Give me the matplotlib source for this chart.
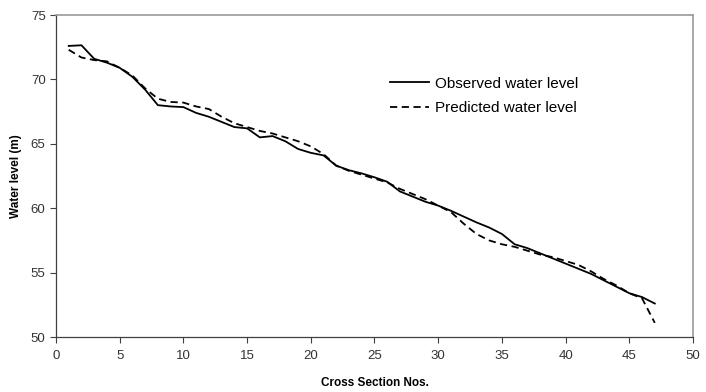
import matplotlib.pyplot as plt
import numpy as np

plt.rcParams['font.family'] = ['Liberation Sans', 'DejaVu Sans']

# cross section numbers
sections = list(range(1, 48))

# water levels (m)
observed = [72.6, 72.65, 71.6, 71.3, 70.9, 70.2, 69.2, 68.0, 67.9, 67.85,
            67.4, 67.1, 66.7, 66.3, 66.2, 65.5, 65.6, 65.2, 64.6, 64.3,
            64.1, 63.3, 62.95, 62.7, 62.4, 62.05, 61.3, 60.9, 60.5, 60.2,
            59.8, 59.35, 58.9, 58.5, 58.0, 57.2, 56.9, 56.5, 56.1, 55.7,
            55.3, 54.9, 54.4, 53.9, 53.4, 53.1, 52.6]
predicted = [72.3, 71.7, 71.5, 71.4, 70.9, 70.3, 69.3, 68.5, 68.25, 68.2,
             67.9, 67.7, 67.1, 66.6, 66.3, 66.0, 65.8, 65.5, 65.2, 64.8,
             64.2, 63.3, 62.9, 62.6, 62.3, 62.0, 61.5, 61.1, 60.7, 60.2,
             59.7, 58.8, 58.0, 57.5, 57.2, 57.0, 56.7, 56.4, 56.2, 55.9,
             55.6, 55.1, 54.5, 54.0, 53.4, 53.0, 51.1]

x_ticks = [0, 5, 10, 15, 20, 25, 30, 35, 40, 45, 50]
y_ticks = [50, 55, 60, 65, 70, 75]

fig = plt.figure(figsize=(7.06, 3.92), dpi=100)
ax = fig.add_axes([0.0793, 0.1403, 0.9023, 0.8214])

ax.plot(sections, observed, color='black', lw=1.3, label='Observed water level')
ax.plot(sections, predicted, color='black', lw=1.3, ls=(0, (4, 2.5)),
        label='Predicted water level')

ax.set_xlim(0, 50)
ax.set_ylim(50, 75)
ax.set_xticks(x_ticks)
ax.set_yticks(y_ticks)
ax.tick_params(direction='out', length=4, width=0.8, color='#404040',
               labelsize=9.5, labelcolor='#333333')
ax.tick_params(axis='x', pad=5)

for side in ['left', 'bottom']:
    ax.spines[side].set_color('#404040')
    ax.spines[side].set_linewidth(0.9)
for side in ['top', 'right']:
    ax.spines[side].set_color('#999999')
    ax.spines[side].set_linewidth(1.2)

ax.set_xlabel('Cross Section Nos.', fontsize=8.5, fontweight='bold', labelpad=11)
ax.set_ylabel('Water level (m)', fontsize=8.5, fontweight='bold', labelpad=6)

ax.legend(loc='upper left', bbox_to_anchor=(0.513, 0.832), frameon=False,
          fontsize=11, handlelength=2.5, handletextpad=0.45, labelspacing=0.7,
          borderpad=0)

fig.savefig('out.png', dpi=100)
